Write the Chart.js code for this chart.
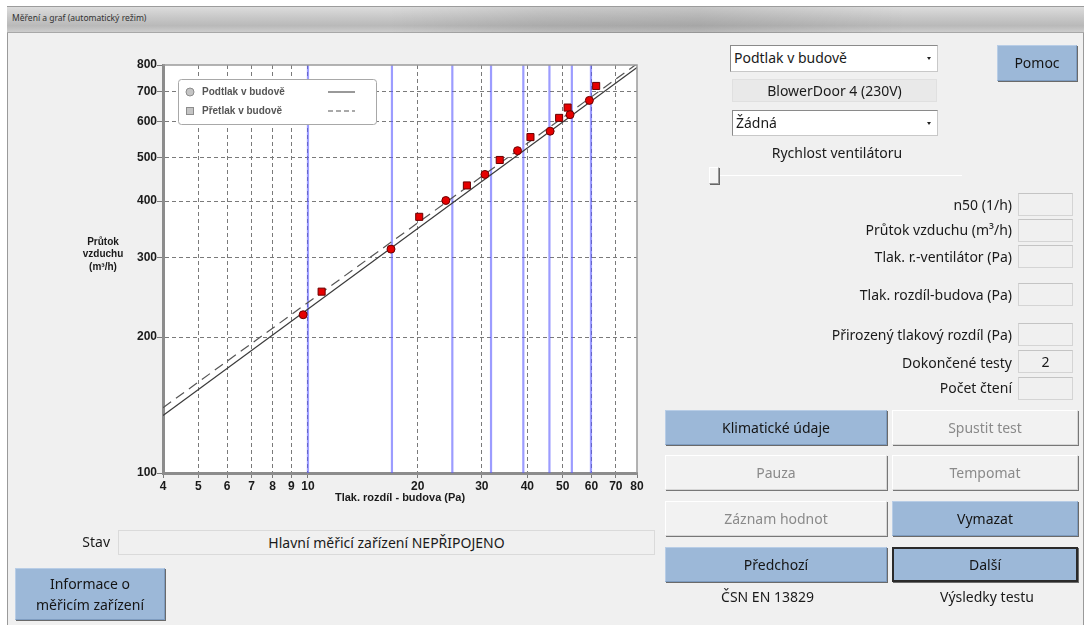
<!DOCTYPE html>
<html><head><meta charset="utf-8">
<script src="https://cdn.jsdelivr.net/npm/chart.js@4.4.1/dist/chart.umd.min.js"></script>
<style>
html,body{margin:0;padding:0;}
body{width:1085px;height:625px;position:relative;overflow:hidden;background:#fff;font-family:"Noto Sans",sans-serif;font-size:14px;color:#1a1a1a;}
.abs{position:absolute;box-sizing:border-box;}
#win{left:7px;top:6px;width:1077px;height:625px;background:#f0f0f0;border-left:1px solid #9a9a9a;border-right:1px solid #9a9a9a;}
#titlebar{left:7px;top:6px;width:1077px;height:27px;background:linear-gradient(to bottom,#dcdcdc 0%,#c6c6c6 45%,#b9b9b9 75%,#cdcdcd 100%);border-top:1px solid #9c9c9c;border-bottom:1px solid #a8a8a8;}
#titlebar .shade{position:absolute;left:380px;top:0;width:520px;height:26px;background:linear-gradient(to right,rgba(0,0,0,0),rgba(0,0,0,0.08) 30%,rgba(0,0,0,0.1) 60%,rgba(0,0,0,0));}
#titletext{left:12px;top:12px;font-size:8.5px;color:#333;line-height:12px;white-space:nowrap;}
canvas#c{position:absolute;left:0;top:0;}
.dd{background:#fff;border:1px solid #8a8a8a;border-right-color:#c8c8c8;border-bottom-color:#c8c8c8;padding-left:3px;line-height:24px;white-space:nowrap;}
.dd .arr{position:absolute;right:6px;top:11px;width:0;height:0;border-left:2.5px solid transparent;border-right:2.5px solid transparent;border-top:3px solid #222;}
.lbl{white-space:nowrap;text-align:center;}
.rl{white-space:nowrap;text-align:right;width:300px;line-height:20px;}
.fld{background:#f0f0f0;border:1px solid #d4d4d4;border-top-color:#c4c4c4;text-align:center;line-height:21px;}
.btn{text-align:center;white-space:nowrap;line-height:33px;}
.blue{background:#9cb8d8;border:1px solid #7e9cc0;border-top-color:#b8cde6;border-left-color:#b8cde6;box-shadow:1px 1px 0 #6a6a6a;color:#151515;}
.dis{background:#f2f2f2;border:1px solid #d6d6d6;border-top-color:#fff;border-left-color:#fff;box-shadow:1px 1px 0 #777;color:#8a8a8a;}
</style></head>
<body>
<div id="win" class="abs"></div>
<div id="titlebar" class="abs"><div class="shade"></div></div>
<div id="titletext" class="abs">Měření a graf (automatický režim)</div>

<canvas id="c" width="1085" height="625"></canvas>

<div class="abs dd" style="left:730px;top:45px;width:208px;height:27px;">Podtlak v budově<div class="arr"></div></div>
<div class="abs fld lbl" style="left:732px;top:79px;width:205px;height:23px;background:#e9e9e9;border-color:#e0e0e0;">BlowerDoor 4 (230V)</div>
<div class="abs dd" style="left:732px;top:110px;width:206px;height:26px;">Žádná<div class="arr"></div></div>
<div class="abs lbl" style="left:733px;top:143px;width:208px;line-height:20px;">Rychlost ventilátoru</div>
<div class="abs" style="left:718px;top:175px;width:244px;height:1px;background:#8a8a8a;border-bottom:1px solid #fff;"></div>
<div class="abs" style="left:709px;top:167px;width:10px;height:17px;background:#f4f4f4;border:1px solid #9a9a9a;border-left-color:#fff;border-top-color:#fff;box-shadow:1px 1px 0 #666;"></div>
<div class="abs btn blue" style="left:997px;top:45px;width:80px;height:36px;line-height:34px;">Pomoc</div>

<div class="abs rl" style="left:712px;top:195px;">n50 (1/h)</div>
<div class="abs fld" style="left:1018px;top:193px;width:55px;height:23px;"></div>
<div class="abs rl" style="left:712px;top:220px;">Průtok vzduchu (m³/h)</div>
<div class="abs fld" style="left:1018px;top:219px;width:55px;height:23px;"></div>
<div class="abs rl" style="left:712px;top:247px;">Tlak. r.-ventilátor (Pa)</div>
<div class="abs fld" style="left:1018px;top:245px;width:55px;height:23px;"></div>
<div class="abs rl" style="left:712px;top:285px;">Tlak. rozdíl-budova (Pa)</div>
<div class="abs fld" style="left:1018px;top:283px;width:55px;height:23px;"></div>
<div class="abs rl" style="left:712px;top:325px;">Přirozený tlakový rozdíl (Pa)</div>
<div class="abs fld" style="left:1018px;top:323px;width:55px;height:23px;"></div>
<div class="abs rl" style="left:712px;top:353px;">Dokončené testy</div>
<div class="abs fld" style="left:1018px;top:350px;width:55px;height:23px;">2</div>
<div class="abs rl" style="left:712px;top:378px;">Počet čtení</div>
<div class="abs fld" style="left:1018px;top:377px;width:55px;height:23px;"></div>

<div class="abs btn blue" style="left:665px;top:410px;width:222px;height:35px;">Klimatické údaje</div>
<div class="abs btn dis" style="left:892px;top:410px;width:186px;height:35px;">Spustit test</div>
<div class="abs btn dis" style="left:665px;top:455px;width:222px;height:35px;">Pauza</div>
<div class="abs btn dis" style="left:892px;top:455px;width:186px;height:35px;">Tempomat</div>
<div class="abs btn dis" style="left:665px;top:501px;width:222px;height:35px;">Záznam hodnot</div>
<div class="abs btn blue" style="left:892px;top:501px;width:186px;height:35px;">Vymazat</div>
<div class="abs btn blue" style="left:665px;top:547px;width:222px;height:35px;">Předchozí</div>
<div class="abs btn blue" style="left:892px;top:547px;width:186px;height:35px;border:2px solid #2a2a2a;line-height:31px;">Další</div>
<div class="abs lbl" style="left:665px;top:587px;width:205px;line-height:20px;">ČSN EN 13829</div>
<div class="abs lbl" style="left:892px;top:587px;width:190px;line-height:20px;">Výsledky testu</div>

<div class="abs rl" style="left:-190px;top:532px;">Stav</div>
<div class="abs fld" style="left:118px;top:530px;width:537px;height:25px;line-height:23px;background:#f0f0f0;border-color:#dadada;">Hlavní měřicí zařízení NEPŘIPOJENO</div>
<div class="abs blue" style="left:15px;top:568px;width:150px;height:52px;text-align:center;line-height:21px;padding-top:4px;">Informace o<br>měřicím zařízení</div>

<script>
// ---- data ----
const xTicks = [4, 5, 6, 7, 8, 9, 10, 20, 30, 40, 50, 60, 70, 80];
const yTicks = [100, 200, 300, 400, 500, 600, 700, 800];
const legendLabels = ['Podtlak v budově', 'Přetlak v budově'];
const xTitle = 'Tlak. rozdíl - budova (Pa)';
const yTitleLines = ['Průtok', 'vzduchu', '(m³/h)'];

const podtlakPressure = [9.7, 16.9, 23.9, 30.6, 37.6, 46.2, 52.4, 59.2];
const podtlakFlow     = [224, 313, 401, 458, 517, 571, 621, 668];
const pretlakPressure = [10.9, 20.2, 27.3, 33.6, 40.8, 48.9, 51.6, 61.8];
const pretlakFlow     = [252, 369, 433, 493, 554, 611, 644, 719];

const podtlakFitPressure = [4, 80];
const podtlakFitFlow     = [134, 790];
const pretlakFitPressure = [4, 80];
const pretlakFitFlow     = [139.5, 805];

const measurementPressures = [10, 17.0, 24.9, 31.8, 39.0, 46.0, 53.0, 59.8];

const pts = (xs, ys) => xs.map((x, i) => ({x: x, y: ys[i]}));

const FONT = '"Liberation Sans", Arial, sans-serif';

const plotBg = {
  id: 'plotBg',
  beforeDraw(chart) {
    const {ctx, chartArea: a} = chart;
    ctx.save();
    ctx.fillStyle = '#ffffff';
    ctx.fillRect(a.left, a.top, a.right - a.left, a.bottom - a.top);
    ctx.restore();
  }
};

const blueLines = {
  id: 'blueLines',
  beforeDatasetsDraw(chart) {
    const {ctx, chartArea: a, scales} = chart;
    ctx.save();
    ctx.strokeStyle = 'rgba(90,90,255,0.6)';
    ctx.lineWidth = 2.2;
    measurementPressures.forEach(p => {
      const x = scales.x.getPixelForValue(p);
      ctx.beginPath();
      ctx.moveTo(x, a.top);
      ctx.lineTo(x, a.bottom);
      ctx.stroke();
    });
    ctx.restore();
  }
};

const frame = {
  id: 'frame',
  afterDatasetsDraw(chart) {
    const {ctx, chartArea: a} = chart;
    ctx.save();
    ctx.strokeStyle = '#9a9a9a';
    ctx.lineWidth = 1.5;
    ctx.beginPath();
    ctx.moveTo(a.left, a.top);
    ctx.lineTo(a.right, a.top);
    ctx.lineTo(a.right, a.bottom);
    ctx.stroke();
    ctx.restore();
  }
};

const customLegend = {
  id: 'customLegend',
  afterDraw(chart) {
    const {ctx, chartArea: a} = chart;
    const x0 = a.left + 15, y0 = a.top + 14, w = 198, h = 45;
    ctx.save();
    ctx.fillStyle = '#ffffff';
    ctx.strokeStyle = '#a8a8a8';
    ctx.lineWidth = 1;
    ctx.beginPath();
    ctx.roundRect(x0 + 0.5, y0 + 0.5, w, h, 3);
    ctx.fill();
    ctx.stroke();
    ctx.font = 'bold 10px ' + FONT;
    ctx.textBaseline = 'middle';
    ctx.textAlign = 'left';
    const rows = [y0 + 13, y0 + 32];
    ctx.fillStyle = '#c4c4c4'; ctx.strokeStyle = '#8c8c8c';
    ctx.beginPath(); ctx.arc(x0 + 12, rows[0], 4, 0, Math.PI * 2); ctx.fill(); ctx.stroke();
    ctx.fillRect(x0 + 8.5, rows[1] - 3.5, 7, 7); ctx.strokeRect(x0 + 8.5, rows[1] - 3.5, 7, 7);
    ctx.fillStyle = '#555';
    legendLabels.forEach((t, i) => ctx.fillText(t, x0 + 24, rows[i] + 0.5));
    ctx.strokeStyle = '#555'; ctx.lineWidth = 1.2;
    ctx.beginPath(); ctx.moveTo(x0 + 150, rows[0]); ctx.lineTo(x0 + 177, rows[0]); ctx.stroke();
    ctx.setLineDash([5, 3]);
    ctx.beginPath(); ctx.moveTo(x0 + 150, rows[1]); ctx.lineTo(x0 + 177, rows[1]); ctx.stroke();
    ctx.restore();
  }
};

const yTitle = {
  id: 'yTitle',
  afterDraw(chart) {
    const {ctx} = chart;
    ctx.save();
    ctx.font = 'bold 10px ' + FONT;
    ctx.fillStyle = '#1a1a1a';
    ctx.textAlign = 'center';
    ctx.textBaseline = 'middle';
    yTitleLines.forEach((t, i) => ctx.fillText(t, 103, 242 + i * 12.5));
    ctx.restore();
  }
};

new Chart(document.getElementById('c'), {
  type: 'scatter',
  data: {
    datasets: [
      {
        label: legendLabels[0],
        data: pts(podtlakPressure, podtlakFlow),
        pointStyle: 'circle', pointRadius: 4, pointHoverRadius: 4,
        backgroundColor: '#e60000', borderColor: '#6a0000', borderWidth: 1
      },
      {
        label: legendLabels[1],
        data: pts(pretlakPressure, pretlakFlow),
        pointStyle: 'rect', pointRadius: 5, pointHoverRadius: 5,
        backgroundColor: '#e60000', borderColor: '#6a0000', borderWidth: 1
      },
      {
        type: 'line',
        label: legendLabels[0] + ' fit',
        data: pts(podtlakFitPressure, podtlakFitFlow),
        borderColor: '#3a3a3a', borderWidth: 1.2, pointRadius: 0, fill: false
      },
      {
        type: 'line',
        label: legendLabels[1] + ' fit',
        data: pts(pretlakFitPressure, pretlakFitFlow),
        borderColor: '#555', borderWidth: 1.2, borderDash: [10, 6], pointRadius: 0, fill: false
      }
    ]
  },
  options: {
    responsive: false,
    animation: false,
    events: [],
    layout: {padding: {left: 0, top: 65, right: 448, bottom: 105}},
    plugins: {legend: {display: false}, tooltip: {enabled: false}, title: {display: false}},
    scales: {
      x: {
        type: 'logarithmic', min: 4, max: 80,
        afterBuildTicks: s => { s.ticks = xTicks.map(v => ({value: v})); },
        afterFit: s => { s.height = 47; },
        ticks: {
          autoSkip: false, maxRotation: 0, padding: 1,
          color: '#1a1a1a', font: {family: FONT, size: 12, weight: 'bold'},
          callback: v => String(v)
        },
        grid: {
          color: ctx => (ctx.index === 0 || ctx.index === xTicks.length - 1) ? 'rgba(0,0,0,0)' : '#7a7a7a',
          tickColor: '#7a7a7a', tickLength: 5, lineWidth: 1, tickBorderDash: []
        },
        border: {color: '#8c8c8c', width: 3, dash: [4, 3]},
        title: {display: true, text: xTitle, color: '#1a1a1a', font: {family: FONT, size: 11, weight: 'bold'}, padding: {top: 0, bottom: 15}}
      },
      y: {
        type: 'logarithmic', min: 100, max: 800,
        afterBuildTicks: s => { s.ticks = yTicks.map(v => ({value: v})); },
        afterFit: s => { s.width = 163; },
        ticks: {
          autoSkip: false, padding: 0,
          color: '#1a1a1a', font: {family: FONT, size: 12, weight: 'bold'},
          callback: v => String(v)
        },
        grid: {
          color: ctx => (ctx.index === 0 || ctx.index === yTicks.length - 1) ? 'rgba(0,0,0,0)' : '#7a7a7a',
          tickColor: '#7a7a7a', tickLength: 6, lineWidth: 1, tickBorderDash: []
        },
        border: {color: '#8c8c8c', width: 3, dash: [4, 3]}
      }
    }
  },
  plugins: [plotBg, blueLines, frame, customLegend, yTitle]
});
</script>
</body></html>
